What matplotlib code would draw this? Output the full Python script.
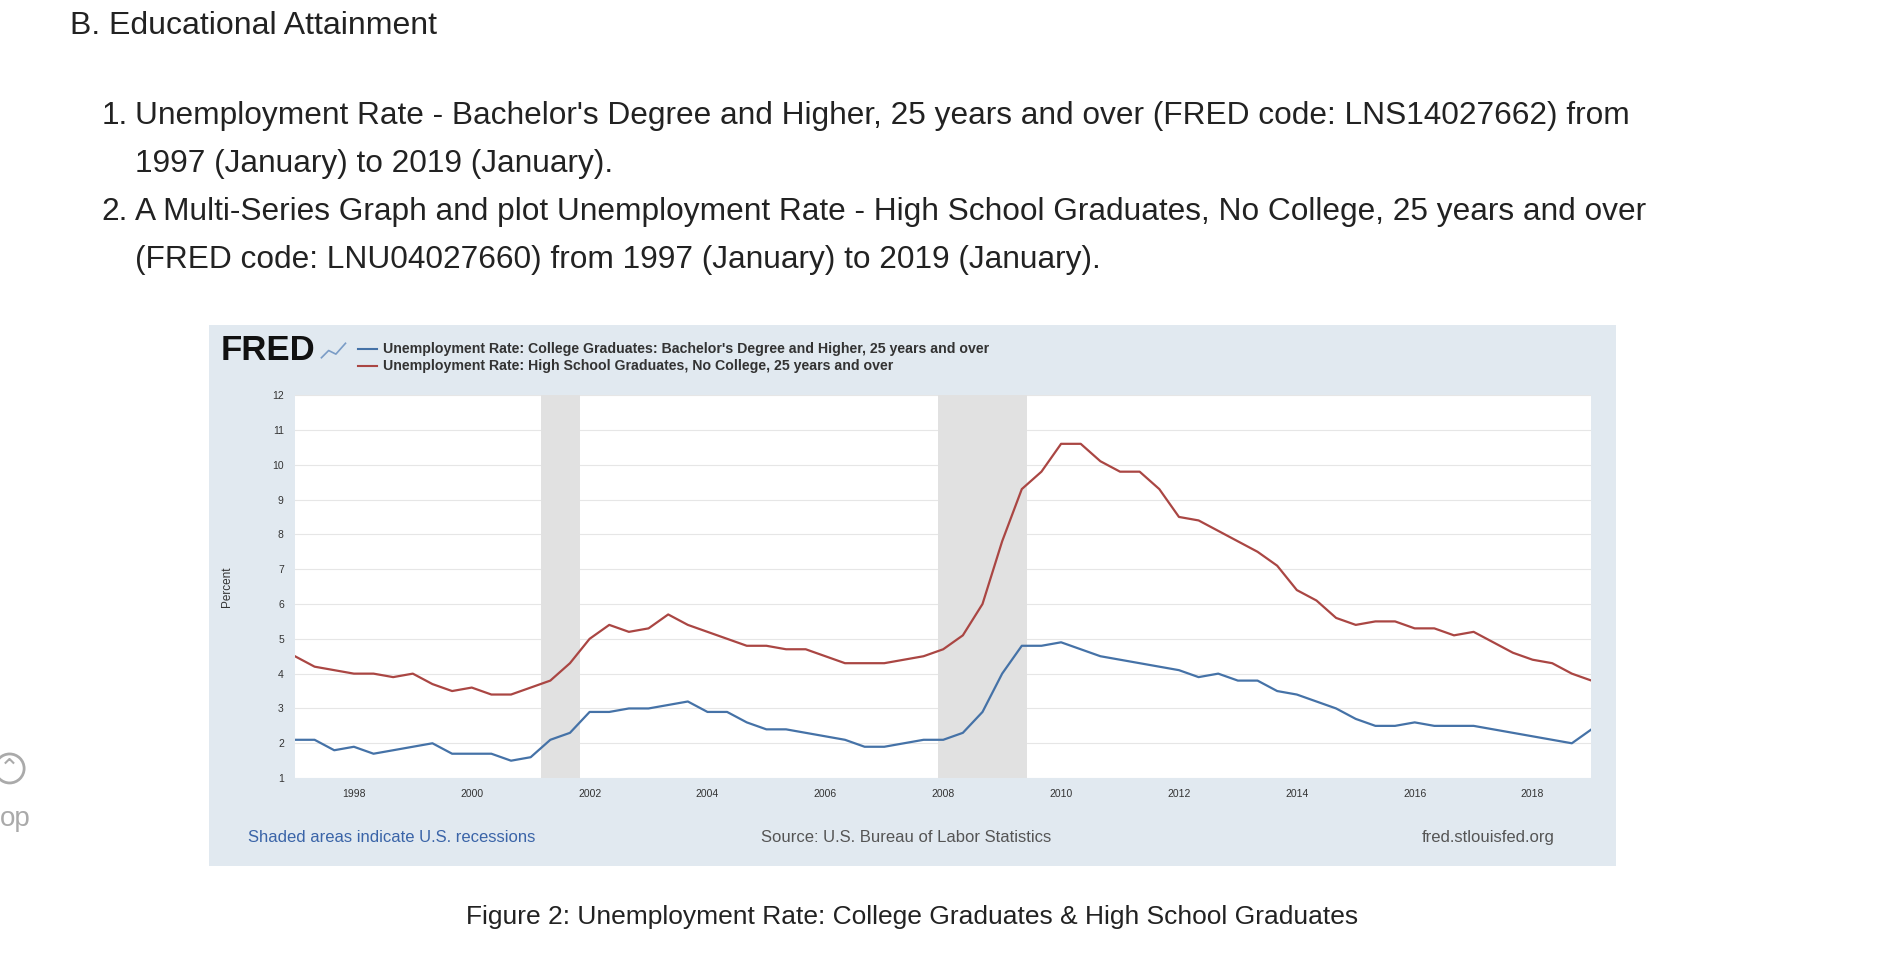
import matplotlib
matplotlib.use("Agg")
import matplotlib.pyplot as plt
import numpy as np

college = [2.1,2.1,1.8, 1.9,1.7,1.8, 1.9,2.0,1.7, 1.7,1.7,1.5,
           1.6,2.1,2.3, 2.9,2.9,3.0, 3.0,3.1,3.2, 2.9,2.9,2.6,
           2.4,2.4,2.3, 2.2,2.1,1.9, 1.9,2.0,2.1, 2.1,2.3,2.9,
           4.0,4.8,4.8, 4.9,4.7,4.5, 4.4,4.3,4.2, 4.1,3.9,4.0,
           3.8,3.8,3.5, 3.4,3.2,3.0, 2.7,2.5,2.5, 2.6,2.5,2.5,
           2.5,2.4,2.3, 2.2,2.1,2.0, 2.4]
highschool = [4.5,4.2,4.1, 4.0,4.0,3.9, 4.0,3.7,3.5, 3.6,3.4,3.4,
              3.6,3.8,4.3, 5.0,5.4,5.2, 5.3,5.7,5.4, 5.2,5.0,4.8,
              4.8,4.7,4.7, 4.5,4.3,4.3, 4.3,4.4,4.5, 4.7,5.1,6.0,
              7.8,9.3,9.8, 10.6,10.6,10.1, 9.8,9.8,9.3, 8.5,8.4,8.1,
              7.8,7.5,7.1, 6.4,6.1,5.6, 5.4,5.5,5.5, 5.3,5.3,5.1,
              5.2,4.9,4.6, 4.4,4.3,4.0, 3.8]
recessions = [(2001.17, 2001.83), (2007.92, 2009.42)]
year_ticks = [1998, 2000, 2002, 2004, 2006, 2008, 2010, 2012, 2014, 2016, 2018]
y_ticks = list(range(1, 13))

t_c = 1997 + np.arange(len(college)) / 3
t_h = 1997 + np.arange(len(highschool)) / 3

W, H = 1560, 802
def fx(x): return x / W
def fy(y): return 1 - y / H

plt.rcParams['font.family'] = ['Liberation Sans', 'DejaVu Sans']
fig = plt.figure(figsize=(18.78, 9.66), dpi=100)
txt = '#222222'
fig.text(fx(58), fy(22), "B. Educational Attainment", fontsize=23, color=txt, va='center')
lines = [(96, "1.", "Unemployment Rate - Bachelor's Degree and Higher, 25 years and over (FRED code: LNS14027662) from"),
         (136, "", "1997 (January) to 2019 (January)."),
         (176, "2.", "A Multi-Series Graph and plot Unemployment Rate - High School Graduates, No College, 25 years and over"),
         (216, "", "(FRED code: LNU04027660) from 1997 (January) to 2019 (January).")]
for y, n, s in lines:
    if n:
        fig.text(fx(106), fy(y), n, fontsize=22.8, color=txt, va='center', ha='right')
    fig.text(fx(112), fy(y), s, fontsize=22.8, color=txt, va='center')
fig.text(fx(758), fy(761), "Figure 2: Unemployment Rate: College Graduates & High School Graduates",
         fontsize=19, color=txt, ha='center', va='center')
fig.text(fx(0), fy(680), "op", fontsize=20, color='#aaaaaa', va='center')
fig.text(fx(8), fy(638), "⌃", fontsize=18, color='#aaaaaa', va='center', ha='center',
         bbox=dict(boxstyle='circle,pad=0.1', fc='none', ec='#aaaaaa', lw=2))

panel = fig.add_axes([fx(174), fy(719), fx(1342) - fx(174), fy(270) - fy(719)])
panel.set_facecolor('#e1e9f0'); panel.set_xticks([]); panel.set_yticks([])
for s in panel.spines.values(): s.set_visible(False)

fig.text(fx(183), fy(291), "FRED", fontsize=25, fontweight='bold', color='#111111', va='center')
fig.lines.append(plt.Line2D([fx(267), fx(273), fx(279), fx(287)], [fy(297), fy(291), fy(294), fy(285)],
                            color='#7a9cc6', lw=1.2, transform=fig.transFigure))
blue, red = '#4572a7', '#aa4643'
fig.lines.append(plt.Line2D([fx(297), fx(313)], [fy(290)] * 2, color=blue, lw=1.5, transform=fig.transFigure))
fig.lines.append(plt.Line2D([fx(297), fx(313)], [fy(304)] * 2, color=red, lw=1.5, transform=fig.transFigure))
fig.text(fx(318), fy(290), "Unemployment Rate: College Graduates: Bachelor's Degree and Higher, 25 years and over",
         fontsize=10.2, fontweight='bold', color='#333333', va='center')
fig.text(fx(318), fy(304), "Unemployment Rate: High School Graduates, No College, 25 years and over",
         fontsize=10.2, fontweight='bold', color='#333333', va='center')
fig.text(fx(206), fy(695), "Shaded areas indicate U.S. recessions", fontsize=12, color='#3a64a8', va='center')
fig.text(fx(753), fy(695), "Source: U.S. Bureau of Labor Statistics", fontsize=12, color='#555555', va='center', ha='center')
fig.text(fx(1291), fy(695), "fred.stlouisfed.org", fontsize=12, color='#555555', va='center', ha='right')

ax = fig.add_axes([fx(245), fy(646), fx(1322) - fx(245), fy(328) - fy(646)])
ax.set_facecolor('white')
for a, b in recessions:
    ax.axvspan(a, b, color='#e1e1e1', lw=0)
ax.plot(t_c, college, color=blue, lw=1.6)
ax.plot(t_h, highschool, color=red, lw=1.6)
ax.set_xlim(1997, 2019); ax.set_ylim(1, 12)
ax.set_yticks(y_ticks); ax.set_xticks(year_ticks)
ax.grid(axis='y', color='#e6e6e6', lw=0.8)
ax.set_axisbelow(True)
ax.tick_params(labelsize=7.5, colors='#333333', length=0, pad=8)
for s in ax.spines.values(): s.set_visible(False)
ax.set_ylabel("Percent", fontsize=8.5, color='#333333', labelpad=28)
fig.savefig("out.png", dpi=100)
